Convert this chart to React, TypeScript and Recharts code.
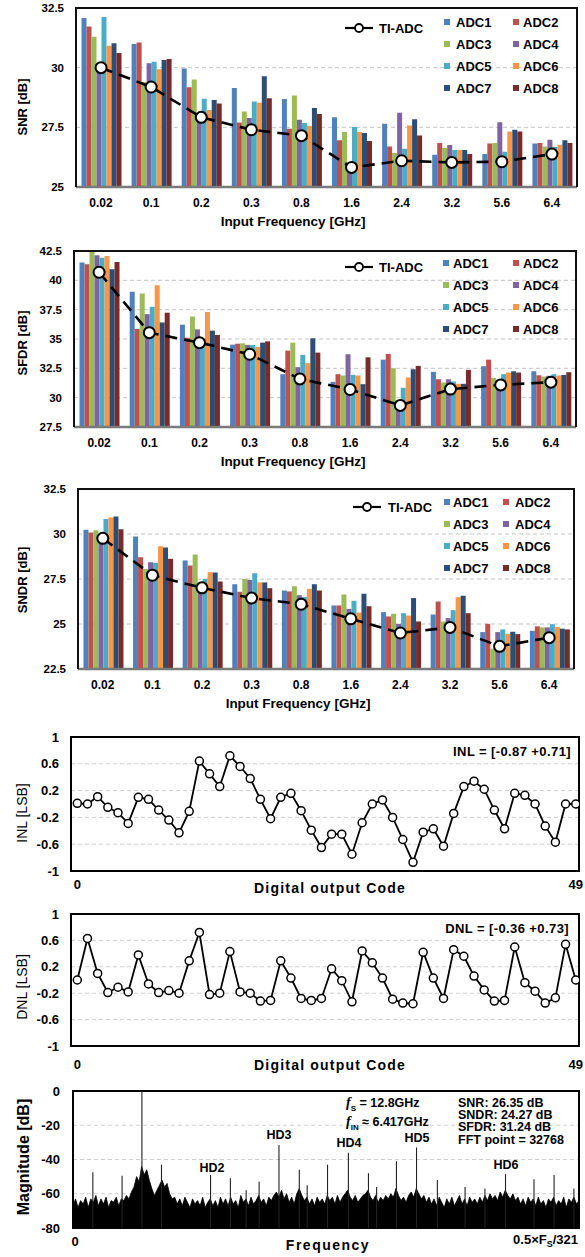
import React from 'react';
import {
  ComposedChart, Bar, Line, XAxis, YAxis, CartesianGrid, ReferenceArea,
  LineChart, AreaChart, Area, ReferenceLine,
} from 'recharts';

const FONT = "'Liberation Sans', Arial, Helvetica, sans-serif";

// ---------------- DATA ----------------
const categories = ['0.02', '0.1', '0.2', '0.3', '0.8', '1.6', '2.4', '3.2', '5.6', '6.4'];
const adcNames = ['ADC1', 'ADC2', 'ADC3', 'ADC4', 'ADC5', 'ADC6', 'ADC7', 'ADC8'];
const adcColors = ['#4F81BD', '#C0504D', '#9BBB59', '#8064A2', '#4BACC6', '#F79646', '#2C4D75', '#772C2A'];

const snrTI = [30.0, 29.19, 27.92, 27.4, 27.15, 25.82, 26.1, 26.03, 26.06, 26.38];
const snrADC = [
  [32.08, 30.99, 29.96, 29.15, 28.69, 27.92, 27.65, 26.35, 26.38, 26.82],
  [31.73, 31.05, 29.18, 27.7, 27.44, 26.96, 26.7, 26.84, 26.82, 26.84],
  [31.3, 29.4, 29.5, 28.16, 28.83, 27.3, 26.42, 26.63, 26.84, 26.7],
  [30.0, 30.18, 28.0, 27.89, 27.82, 26.0, 28.11, 26.76, 27.71, 26.98],
  [32.12, 30.25, 28.7, 28.58, 27.68, 27.51, 26.6, 26.55, 26.48, 26.68],
  [30.92, 29.93, 28.23, 28.53, 27.56, 27.3, 27.58, 26.55, 27.33, 26.77],
  [31.02, 30.32, 28.65, 29.64, 28.31, 27.26, 27.84, 26.55, 27.4, 26.96],
  [30.61, 30.36, 28.5, 28.72, 28.06, 26.93, 27.16, 26.38, 27.33, 26.84],
];

const sfdrTI = [40.69, 35.54, 34.69, 33.7, 31.6, 30.7, 29.34, 30.73, 31.09, 31.32];
const sfdrADC = [
  [41.51, 39.02, 36.22, 34.52, 32.0, 31.35, 33.24, 32.2, 32.68, 32.25],
  [41.37, 35.85, 35.11, 34.6, 34.01, 32.0, 33.73, 31.57, 33.24, 31.91],
  [42.5, 38.88, 36.92, 34.63, 34.69, 31.89, 32.51, 31.29, 31.69, 31.8],
  [42.13, 37.12, 35.82, 34.5, 32.6, 33.7, 29.5, 31.57, 31.52, 31.86],
  [41.93, 37.74, 34.8, 34.49, 33.65, 31.94, 30.84, 31.38, 32.0, 32.0],
  [42.08, 39.58, 37.3, 34.32, 32.94, 31.89, 31.72, 31.18, 32.14, 31.89],
  [40.94, 36.41, 35.71, 34.69, 35.06, 31.15, 32.42, 31.18, 32.25, 31.94],
  [41.57, 37.24, 35.34, 34.8, 33.84, 33.44, 32.71, 32.37, 32.14, 32.17],
];

const sndrTI = [29.76, 27.71, 27.01, 26.44, 26.1, 25.29, 24.5, 24.81, 23.76, 24.24];
const sndrADC = [
  [30.23, 29.86, 28.53, 27.21, 26.86, 26.03, 25.66, 25.53, 24.55, 24.62],
  [30.08, 28.71, 28.25, 26.79, 26.81, 26.03, 25.42, 26.25, 25.01, 24.87],
  [30.21, 28.05, 28.86, 27.51, 27.1, 26.64, 25.57, 25.14, 23.63, 24.81],
  [30.0, 28.43, 27.3, 27.45, 26.6, 25.84, 25.01, 25.33, 24.55, 24.81],
  [30.84, 28.4, 27.5, 27.82, 26.5, 26.29, 25.6, 25.77, 24.7, 24.99],
  [30.91, 29.32, 27.88, 27.31, 26.95, 25.64, 25.47, 26.49, 24.44, 24.83],
  [30.97, 29.25, 27.86, 27.31, 27.21, 26.68, 26.44, 26.57, 24.57, 24.74],
  [30.26, 28.62, 27.36, 26.99, 26.86, 25.99, 25.14, 25.6, 24.44, 24.7],
];

const inlValues = [
  0.01, 0.0, 0.11, -0.05, -0.13, -0.29, 0.1, 0.07, -0.09, -0.24,
  -0.43, -0.11, 0.64, 0.45, 0.26, 0.72, 0.56, 0.38, 0.07, -0.22,
  0.1, 0.16, -0.1, -0.39, -0.65, -0.45, -0.45, -0.75, -0.28, 0.0,
  0.06, -0.2, -0.53, -0.87, -0.42, -0.37, -0.63, -0.14, 0.26, 0.34,
  0.22, -0.09, -0.37, 0.16, 0.13, 0.0, -0.33, -0.57, 0.0, 0.0,
];

const dnlValues = [
  0.0, 0.63, 0.1, -0.19, -0.11, -0.18, 0.38, -0.06, -0.19, -0.16,
  -0.2, 0.29, 0.72, -0.22, -0.2, 0.43, -0.18, -0.2, -0.32, -0.31,
  0.29, 0.03, -0.28, -0.31, -0.28, 0.17, -0.01, -0.33, 0.44, 0.26,
  0.03, -0.29, -0.35, -0.36, 0.42, 0.03, -0.28, 0.46, 0.36, 0.06,
  -0.15, -0.32, -0.31, 0.5, -0.04, -0.17, -0.35, -0.27, 0.54, 0.0,
];
const codeTicks = [0, 49];

const noiseFloor = [
  -67, -63, -68, -64, -66, -62, -68, -63, -65, -61, -67, -63, -66, -62, -68, -64, -65, -62, -67, -63,
  -64, -61, -63, -59, -56, -50, -53, -44, -49, -46, -52, -57, -61, -58, -55, -52, -56, -54, -60, -63,
  -62, -66, -63, -67, -62, -65, -68, -63, -66, -64, -67, -62, -68, -65, -63, -67, -64, -68, -62, -66,
  -63, -67, -62, -66, -64, -68, -61, -65, -63, -67, -62, -66, -64, -61, -65, -63, -67, -62, -64, -61,
  -59, -62, -58, -63, -60, -65, -62, -66, -60, -57, -61, -64, -62, -66, -63, -67, -62, -65, -63, -66,
  -61, -64, -62, -66, -61, -65, -62, -60, -58, -62, -64, -61, -65, -63, -61, -60, -58, -62, -64, -61,
  -65, -62, -64, -61, -63, -60, -62, -57, -61, -64, -62, -65, -61, -59, -62, -57, -60, -63, -61, -65,
  -62, -66, -63, -67, -62, -65, -68, -63, -66, -62, -67, -64, -61, -66, -63, -67, -62, -65, -63, -66,
  -62, -65, -61, -64, -60, -63, -61, -64, -59, -62, -58, -61, -63, -60, -64, -62, -66, -63, -67, -62,
  -65, -63, -67, -62, -66, -64, -68, -63, -65, -62, -67, -64, -66, -62, -68, -63, -65, -62, -66, -64,
];
const spikeBins = [7.8, 19.3, 27.1, 34.8, 54.1, 61.9, 68.1, 73.2, 81, 89, 92.1, 100.1, 108.3, 116.2, 119.4, 127.2, 135.1, 143.3, 154.2, 162, 170.1, 181.3, 189.2, 197];
const spikeMags = [-47.5, -49.5, 0, -43, -49, -51, -58, -53, -31.6, -46, -55, -43, -36.1, -48, -56, -41, -33, -52, -56, -57, -48.5, -51.5, -49, -57];
const hdLabels = ['HD2', 'HD3', 'HD4', 'HD5', 'HD6'];

// ---------------- HELPERS ----------------
const buildRows = (ti: number[], adc: number[][]) =>
  categories.map((cat, i) => {
    const row: Record<string, any> = { cat, ti: ti[i] };
    adcNames.forEach((n, k) => { row[n] = adc[k][i]; });
    return row;
  });

const tickStyle = (size: number) => ({ fill: '#000', fontSize: size, fontWeight: 700, fontFamily: FONT });

const CText = ({ x, y, children, size = 12, weight = 700, style = {} }: any) => (
  <div style={{
    position: 'absolute', left: x, top: y, transform: 'translate(-50%,-50%)', whiteSpace: 'nowrap',
    fontSize: size, fontWeight: weight, fontFamily: FONT, color: '#000', lineHeight: 1, ...style,
  }}>{children}</div>
);
const VText = ({ x, y, children, size = 13, weight = 700, style = {} }: any) => (
  <div style={{
    position: 'absolute', left: x, top: y, transform: 'translate(-50%,-50%) rotate(-90deg)', whiteSpace: 'nowrap',
    fontSize: size, fontWeight: weight, fontFamily: FONT, color: '#000', lineHeight: 1, ...style,
  }}>{children}</div>
);
const RText = ({ right, y, children, size = 13, weight = 700, style = {} }: any) => (
  <div style={{
    position: 'absolute', right: 585 - right, top: y, transform: 'translateY(-50%)', whiteSpace: 'nowrap',
    fontSize: size, fontWeight: weight, fontFamily: FONT, color: '#000', lineHeight: 1, ...style,
  }}>{children}</div>
);

type LegendCfg = { tiX: number; tiY: number; tiTextX: number; sq1: number; tx1: number; sq2: number; tx2: number; rows: number[] };

const BarLegend = ({ cfg }: { cfg: LegendCfg }) => (
  <>
    <svg width={28} height={12} style={{ position: 'absolute', left: cfg.tiX, top: cfg.tiY - 6 }}>
      <line x1={0} y1={6} x2={28} y2={6} stroke="#000" strokeWidth={2.2} />
      <circle cx={14} cy={6} r={4} fill="#fff" stroke="#000" strokeWidth={1.8} />
    </svg>
    <div style={{ position: 'absolute', left: cfg.tiTextX, top: cfg.tiY, transform: 'translateY(-50%)', fontSize: 13, fontWeight: 700, fontFamily: FONT, lineHeight: 1, whiteSpace: 'nowrap' }}>TI-ADC</div>
    {adcNames.map((n, k) => {
      const col = k % 2;
      const y = cfg.rows[Math.floor(k / 2)];
      return (
        <React.Fragment key={n}>
          <div style={{ position: 'absolute', left: col ? cfg.sq2 : cfg.sq1, top: y - 3, width: 6, height: 6, background: adcColors[k] }} />
          <div style={{ position: 'absolute', left: col ? cfg.tx2 : cfg.tx1, top: y, transform: 'translateY(-50%)', fontSize: 13, fontWeight: 700, fontFamily: FONT, lineHeight: 1, whiteSpace: 'nowrap' }}>{n}</div>
        </React.Fragment>
      );
    })}
  </>
);

type BarCfg = {
  top: number; height: number; mTop: number; mBottom: number; mRight: number; yWidth: number;
  domain: [number, number]; ticks: number[]; ti: number[]; adc: number[][];
};

const X_AXIS_H = 30;

const BarPanel = ({ cfg }: { cfg: BarCfg }) => {
  const data = buildRows(cfg.ti, cfg.adc);
  const plotW = 585 - cfg.yWidth - cfg.mRight;
  const plotH = cfg.height - cfg.mTop - cfg.mBottom - X_AXIS_H;
  return (
    <div style={{ position: 'absolute', left: 0, top: cfg.top, width: 585, height: cfg.height }}>
      <ComposedChart width={585} height={cfg.height} data={data}
        margin={{ top: cfg.mTop, right: cfg.mRight, bottom: cfg.mBottom, left: 0 }}
        barCategoryGap="11%" barGap={0}>
        <CartesianGrid vertical={false} stroke="#c4c4c4" strokeDasharray="4 3" />
        <XAxis dataKey="cat" height={X_AXIS_H} interval={0} tickLine={false} tickSize={0} tickMargin={11}
          axisLine={{ stroke: '#7a7a7a', strokeWidth: 2.5 }} tick={tickStyle(12)} />
        <YAxis domain={cfg.domain} ticks={cfg.ticks} width={cfg.yWidth} allowDataOverflow axisLine={false}
          tickLine={false} tickSize={0} tickMargin={12} tick={tickStyle(11.5)} />
        {adcNames.map((n, k) => (
          <Bar key={n} dataKey={n} fill={adcColors[k]} isAnimationActive={false} />
        ))}
        <Line dataKey="ti" type="linear" stroke="#000" strokeWidth={2.6} strokeDasharray="12 7"
          dot={{ r: 5.5, fill: '#fff', stroke: '#000', strokeWidth: 2, strokeDasharray: 'none' }}
          activeDot={false} isAnimationActive={false} />
      </ComposedChart>
      {/* plot frame (styling only): top, left and right edges; bottom is the grey x axis */}
      <div style={{
        position: 'absolute', left: cfg.yWidth - 1, top: cfg.mTop - 1, width: plotW + 2, height: plotH + 1,
        boxSizing: 'border-box', borderTop: '2px solid #111', borderLeft: '2px solid #111', borderRight: '2px solid #111',
        zIndex: 50, pointerEvents: 'none',
      }} />
    </div>
  );
};

type LinCfg = { top: number; height: number; mTop: number; values: number[]; tickMargin: number };

const LinPanel = ({ cfg }: { cfg: LinCfg }) => {
  const data = cfg.values.map((v, i) => ({ code: i, v }));
  return (
    <div style={{ position: 'absolute', left: 0, top: cfg.top }}>
      <LineChart width={585} height={cfg.height} data={data} margin={{ top: cfg.mTop, right: 6, bottom: 0, left: 0 }}>
        <CartesianGrid vertical={false} stroke="#cfcfcf" strokeDasharray="4 3" />
        <XAxis type="number" dataKey="code" domain={[-0.62, 49.32]} ticks={codeTicks} allowDataOverflow height={30}
          axisLine={false} tickLine={false} tickSize={0} tickMargin={cfg.tickMargin} tick={tickStyle(13)} />
        <YAxis domain={[-1, 1]} ticks={[-1, -0.6, -0.2, 0.2, 0.6, 1]} width={71} axisLine={false} tickLine={false}
          tickSize={0} tickMargin={12} tick={tickStyle(13)} />
        <ReferenceArea y1={-1} y2={1} fill="none" fillOpacity={0} stroke="#000" strokeWidth={2} ifOverflow="visible" />
        <Line dataKey="v" type="linear" stroke="#000" strokeWidth={1.8}
          dot={{ r: 4, fill: '#fff', stroke: '#000', strokeWidth: 1.5 }} activeDot={false} isAnimationActive={false} />
      </LineChart>
    </div>
  );
};

const FftPanel = () => {
  const data = noiseFloor.map((m, i) => ({ bin: i, mag: m }));
  return (
    <div style={{ position: 'absolute', left: 0, top: 1081 }}>
      <AreaChart width={585} height={177} data={data} margin={{ top: 10, right: 6, bottom: 0, left: 0 }}>
        <CartesianGrid vertical={false} stroke="#cfcfcf" strokeDasharray="4 3" />
        <XAxis type="number" dataKey="bin" domain={[0, noiseFloor.length - 1]} tick={false} height={30}
          axisLine={false} tickLine={false} />
        <YAxis domain={[-80, 0]} ticks={[-80, -60, -40, -20, 0]} width={73} axisLine={false} tickLine={false}
          tickSize={0} tickMargin={13} tick={tickStyle(13)} />
        <Area dataKey="mag" type="linear" baseValue="dataMin" stroke="#000" strokeWidth={0.8} fill="#000"
          fillOpacity={1} dot={false} activeDot={false} isAnimationActive={false} />
        {spikeBins.map((b, i) => (
          <ReferenceLine key={i} segment={[{ x: b, y: -80 }, { x: b, y: spikeMags[i] }]} stroke="#222" strokeWidth={1.1} />
        ))}
        <ReferenceArea y1={-80} y2={0} fill="none" fillOpacity={0} stroke="#000" strokeWidth={2} ifOverflow="visible" />
      </AreaChart>
    </div>
  );
};

// ---------------- APP ----------------
export default function App() {
  return (
    <div style={{ position: 'absolute', left: 0, top: 0, width: 585, height: 1257, background: '#fff', overflow: 'hidden', fontFamily: FONT }}>
      <BarPanel cfg={{ top: 0, height: 230, mTop: 8, mBottom: 13, mRight: 8, yWidth: 76, domain: [25, 32.5], ticks: [25, 27.5, 30, 32.5], ti: snrTI, adc: snrADC }} />
      <VText x={22} y={107}>SNR [dB]</VText>
      <CText x={293} y={222} size={13.5}>Input Frequency [GHz]</CText>
      <BarLegend cfg={{ tiX: 345, tiY: 28, tiTextX: 379, sq1: 444, tx1: 456, sq2: 513, tx2: 523, rows: [22, 44, 66, 88] }} />

      <BarPanel cfg={{ top: 240, height: 230, mTop: 11, mBottom: 13, mRight: 9, yWidth: 74, domain: [27.5, 42.5], ticks: [27.5, 30, 32.5, 35, 37.5, 40, 42.5], ti: sfdrTI, adc: sfdrADC }} />
      <VText x={22} y={343}>SFDR [dB]</VText>
      <CText x={293} y={462} size={13.5}>Input Frequency [GHz]</CText>
      <BarLegend cfg={{ tiX: 345, tiY: 267, tiTextX: 379, sq1: 443, tx1: 453, sq2: 513, tx2: 523, rows: [263, 285, 307, 329] }} />

      <BarPanel cfg={{ top: 478, height: 230, mTop: 11, mBottom: 9, mRight: 11, yWidth: 78, domain: [22.5, 32.5], ticks: [22.5, 25, 27.5, 30, 32.5], ti: sndrTI, adc: sndrADC }} />
      <VText x={22} y={580}>SNDR [dB]</VText>
      <CText x={298} y={704} size={13.5}>Input Frequency [GHz]</CText>
      <BarLegend cfg={{ tiX: 353, tiY: 507, tiTextX: 388, sq1: 444, tx1: 453, sq2: 503, tx2: 515, rows: [502, 524, 546, 568] }} />

      <LinPanel cfg={{ top: 727, height: 174, mTop: 10, values: inlValues, tickMargin: 9 }} />
      <VText x={22} y={813} size={14} weight={400}>INL [LSB]</VText>
      <CText x={330} y={888} size={14} style={{ letterSpacing: 1.2 }}>Digital output Code</CText>
      <RText right={571} y={751} size={13} style={{ letterSpacing: 0.4 }}>INL = [-0.87 +0.71]</RText>

      <LinPanel cfg={{ top: 904, height: 172, mTop: 10, values: dnlValues, tickMargin: 14 }} />
      <VText x={22} y={987} size={14} weight={400}>DNL [LSB]</VText>
      <CText x={330} y={1065} size={14} style={{ letterSpacing: 1.2 }}>Digital output Code</CText>
      <RText right={569} y={928} size={13} style={{ letterSpacing: 0.4 }}>DNL = [-0.36 +0.73]</RText>

      <FftPanel />
      <VText x={24} y={1157} size={16}>Magnitude [dB]</VText>
      <CText x={75} y={1241} size={13}>0</CText>
      <CText x={328} y={1245} size={14} style={{ letterSpacing: 1.5 }}>Frequency</CText>
      <RText right={578} y={1241} size={13}>0.5×F<sub style={{ fontSize: 9 }}>S</sub>/321</RText>
      <CText x={212} y={1168} size={12.5}>{hdLabels[0]}</CText>
      <CText x={279} y={1135} size={12.5}>{hdLabels[1]}</CText>
      <CText x={349} y={1143} size={12.5}>{hdLabels[2]}</CText>
      <CText x={417} y={1138} size={12.5}>{hdLabels[3]}</CText>
      <CText x={506} y={1165} size={12.5}>{hdLabels[4]}</CText>
      <div style={{ position: 'absolute', left: 346, top: 1096, fontSize: 12.5, fontWeight: 700, fontFamily: FONT, lineHeight: '13px', whiteSpace: 'nowrap' }}>
        <div><span style={{ fontFamily: "'Liberation Serif', serif", fontStyle: 'italic', fontSize: 14 }}>f</span><sub style={{ fontSize: 8 }}>S</sub> = 12.8GHz</div>
        <div><span style={{ fontFamily: "'Liberation Serif', serif", fontStyle: 'italic', fontSize: 14 }}>f</span><sub style={{ fontSize: 8 }}>IN</sub> ≈ 6.417GHz</div>
      </div>
      <div style={{ position: 'absolute', left: 458, top: 1097, fontSize: 12.5, fontWeight: 700, fontFamily: FONT, lineHeight: '12.2px', whiteSpace: 'nowrap' }}>
        <div>SNR: 26.35 dB</div>
        <div>SNDR: 24.27 dB</div>
        <div>SFDR: 31.24 dB</div>
        <div>FFT point = 32768</div>
      </div>
    </div>
  );
}
